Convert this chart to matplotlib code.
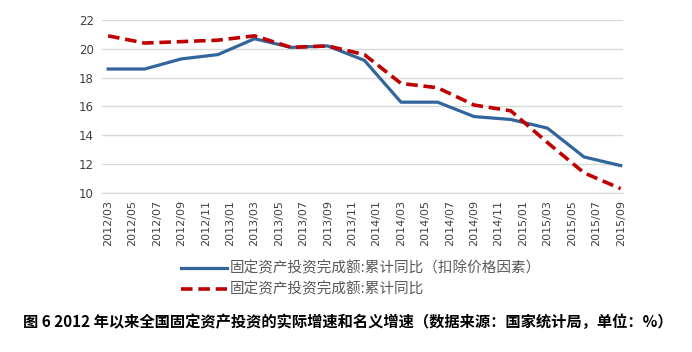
import matplotlib
matplotlib.use('Agg')
import matplotlib.pyplot as plt

plt.rcParams['font.family'] = ['Noto Sans CJK SC', 'DejaVu Sans']

# monthly tick labels, every two months
tick_labels = ['2012/03', '2012/05', '2012/07', '2012/09', '2012/11',
               '2013/01', '2013/03', '2013/05', '2013/07', '2013/09', '2013/11',
               '2014/01', '2014/03', '2014/05', '2014/07', '2014/09', '2014/11',
               '2015/01', '2015/03', '2015/05', '2015/07', '2015/09']

# quarterly data points (cumulative yoy, %)
periods = ['2012/03', '2012/06', '2012/09', '2012/12',
           '2013/03', '2013/06', '2013/09', '2013/12',
           '2014/03', '2014/06', '2014/09', '2014/12',
           '2015/03', '2015/06', '2015/09']
real_growth = [18.6, 18.6, 19.3, 19.6, 20.7, 20.1, 20.2, 19.2,
               16.3, 16.3, 15.3, 15.1, 14.5, 12.5, 11.9]
nominal_growth = [20.9, 20.4, 20.5, 20.6, 20.9, 20.1, 20.2, 19.6,
                  17.6, 17.3, 16.1, 15.7, 13.5, 11.4, 10.3]

label_real = '固定资产投资完成额:累计同比（扣除价格因素）'
label_nominal = '固定资产投资完成额:累计同比'
caption = '图 6 2012 年以来全国固定资产投资的实际增速和名义增速（数据来源：国家统计局，单位：%）'


def month_index(s):
    y, m = s.split('/')
    return (int(y) - 2012) * 12 + int(m) - 3


x_ticks = [month_index(s) for s in tick_labels]
x_data = [month_index(s) for s in periods]

fig = plt.figure(figsize=(6.92, 3.52), dpi=100)
ax = fig.add_axes([0.1474, 0.4517, 0.753, 0.4915])

ln1, = ax.plot(x_data, real_growth, color='#31659c', lw=2.3, label=label_real)
ln2, = ax.plot(x_data, nominal_growth, color='#c00000', lw=2.6,
               linestyle=(0, (3.2, 1.6)), label=label_nominal)

ax.set_ylim(10, 22)
ax.set_yticks(range(10, 23, 2))
ax.set_xlim(-0.5, 42.2)
ax.set_xticks(x_ticks)
ax.set_xticklabels(tick_labels, rotation=90, family='DejaVu Sans')
ax.tick_params(axis='x', length=0, pad=5, labelsize=8, colors='#404040')
ax.tick_params(axis='y', length=0, pad=6, labelsize=8.5, colors='#404040')
for lab in ax.get_yticklabels():
    lab.set_family('DejaVu Sans')

ax.grid(axis='y', color='#d9d9d9', lw=1)
ax.set_axisbelow(True)
for side in ['top', 'right', 'left']:
    ax.spines[side].set_visible(False)
ax.spines['bottom'].set_color('#d9d9d9')

fig.legend(handles=[ln1, ln2], loc='upper left',
           bbox_to_anchor=(174 / 692, 1 - 254 / 352), frameon=False,
           fontsize=10.5, handlelength=3.1, handletextpad=0.25,
           labelspacing=0.45, borderpad=0, labelcolor='#595959')

fig.text(348 / 692, 1 - 322 / 352, caption, ha='center', va='center',
         fontsize=11, fontweight='bold', color='black')

fig.savefig('out.png', dpi=100)
